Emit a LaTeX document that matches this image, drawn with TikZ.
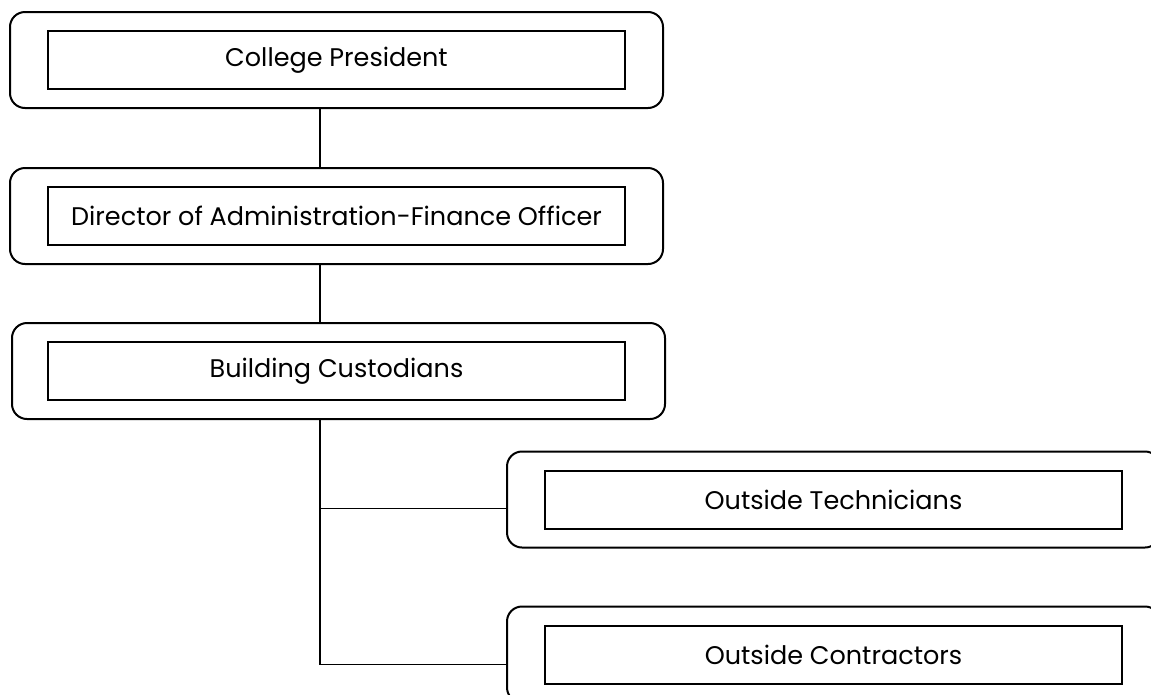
\documentclass[tikz,border=0pt]{standalone}
\usepackage{fontspec}
\setmainfont{Poppins}
\usetikzlibrary{positioning}
\tikzstyle{outerbox} = [draw=black, line width=2pt, rectangle,
    rounded corners=15pt, minimum width=653pt, minimum height=96pt]
\tikzstyle{innerbox} = [draw=black, line width=2pt, rectangle,
    minimum width=577pt, minimum height=58pt, font=\fontsize{25.5}{30}\selectfont]
\tikzstyle{link} = [draw=black, line width=1.6pt]

\begin{document}
\begin{tikzpicture}[x=1pt,y=-1pt]
    \path[use as bounding box, clip] (0,0) rectangle (1151,694);
    \coordinate (trunk) at (320,0);
    % main column
    \node [outerbox] (presbox) at (336.5,60) {};
    \node [innerbox] (pres) at (presbox.center) {College President};
    \node [outerbox, below=58pt of presbox] (dirbox) {};
    \node [innerbox] (dir) at (dirbox.center) {Director of Administration-Finance Officer};
    \node [outerbox, below=57pt of dirbox, xshift=2pt] (custbox) {};
    \node [innerbox] (cust) at ([xshift=-2pt]custbox.center) {Building Custodians};
    % outside help
    \node [outerbox] (techbox) at (833.5,499.5) {};
    \node [innerbox] (tech) at (techbox.center) {Outside Technicians};
    \node [outerbox, below=57pt of techbox] (contrbox) {};
    \node [innerbox] (contr) at (contrbox.center) {Outside Contractors};
    \coordinate (techjoin) at ([yshift=-9pt]techbox.west);
    \coordinate (contrjoin) at ([yshift=-10pt]contrbox.west);
    % connectors
    \draw [link] (presbox.south -| trunk) -- (dirbox.north -| trunk);
    \draw [link] (dirbox.south -| trunk) -- (custbox.north -| trunk);
    \draw [link] (custbox.south -| trunk) |- (contrjoin);
    \draw [link] (trunk |- techjoin) -- (techjoin);
\end{tikzpicture}
\end{document}
